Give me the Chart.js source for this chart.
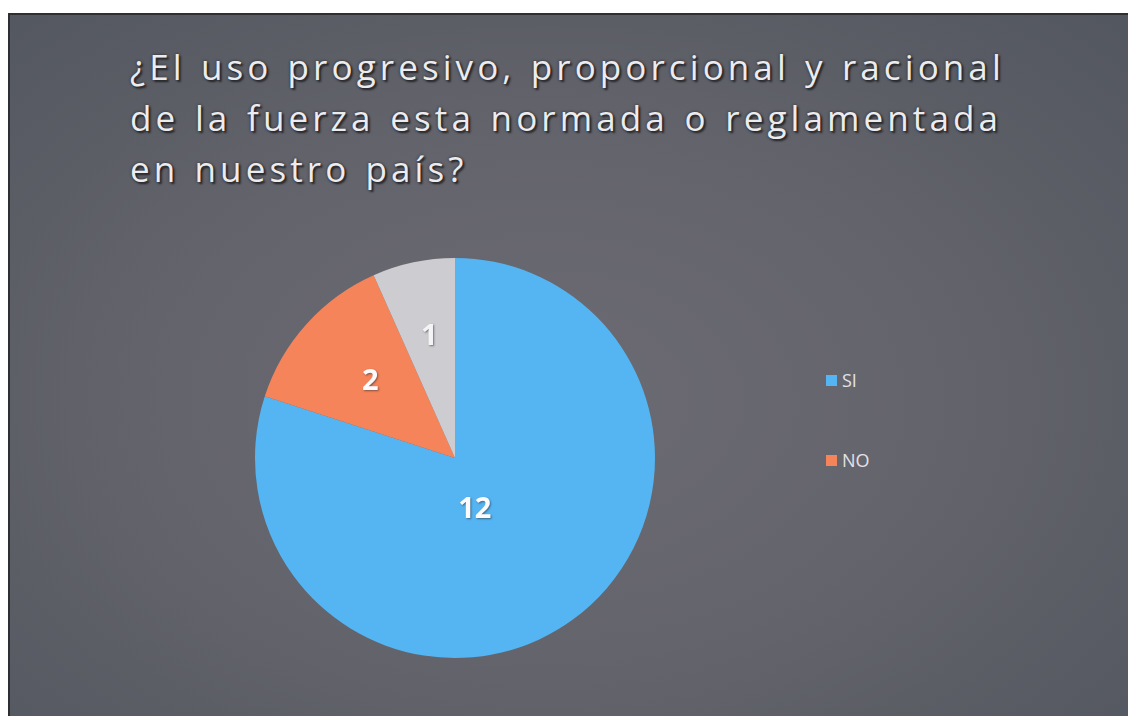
<!DOCTYPE html>
<html>
<head>
<meta charset="utf-8">
<script src="https://cdn.jsdelivr.net/npm/chart.js@4/dist/chart.umd.min.js"></script>
<style>
  html,body{ margin:0; padding:0; background:#fff; }
  #page{ position:relative; width:1128px; height:716px; overflow:hidden; background:#fff; }
  #slide{
    position:absolute; left:8px; top:13px; right:0; bottom:0;
    border-left:2px solid #2e2f33; border-top:2px solid #2e2f33;
    background:radial-gradient(ellipse 75% 80% at 48% 55%, #6c6b73 0%, #64646c 45%, #585b63 80%, #52565e 100%);
  }
  #title{
    position:absolute; left:130px; top:41px; width:872px;
    font-family:"Open Sans", sans-serif; font-size:35px; line-height:51px;
    letter-spacing:4.1px; word-spacing:2px; color:#ececef;
    text-shadow:2px 2px 2px #25262a, 0 0 3px #2a2b30;
  }
  #title .ln{ text-align:justify; text-align-last:justify; white-space:nowrap; }
  #title .ln.last{ text-align-last:left; }
  #pie-wrap{ position:absolute; left:253px; top:256px; width:404px; height:404px; }
  #legend{ position:absolute; left:826px; top:368px; font-family:"Open Sans", sans-serif; font-size:18px; color:#e2e2e6; }
  #legend .it{ display:flex; align-items:center; height:24px; margin-bottom:56px; }
  #legend .sw{ width:11px; height:11px; margin-right:5px; }
</style>
</head>
<body>
<div id="page">
  <div id="slide"></div>
  <div id="title">
    <div class="ln">¿El uso progresivo, proporcional y racional</div>
    <div class="ln">de la fuerza esta normada o reglamentada</div>
    <div class="ln last">en nuestro país?</div>
  </div>
  <div id="pie-wrap"><canvas id="pie"></canvas></div>
  <div id="legend"></div>
</div>
<script>
// slide data
const LABELS = ['SI', 'NO', ''];
const VALUES = [12, 2, 1];
const COLORS = ['#55b5f2', '#f5845a', '#cdccd0'];
const LEGEND_ITEMS = ['SI', 'NO'];

// data labels drawn on the arcs (fraction of radius per slice)
const sliceLabels = {
  id:'sliceLabels',
  afterDatasetsDraw(chart){
    const ctx = chart.ctx;
    const rFrac = [0.27, 0.57, 0.62];
    chart.getDatasetMeta(0).data.forEach((arc, i) => {
      const mid = (arc.startAngle + arc.endAngle) / 2;
      const r = arc.outerRadius * rFrac[i];
      const x = arc.x + Math.cos(mid) * r - (i === 0 ? 12 : 0);
      const y = arc.y + Math.sin(mid) * r + (i === 0 ? 8 : 0);
      ctx.save();
      ctx.font = 'bold 29px "Open Sans", sans-serif';
      ctx.textAlign = 'center';
      ctx.textBaseline = 'middle';
      ctx.shadowColor = 'rgba(30,30,40,0.5)';
      ctx.shadowBlur = 2;
      ctx.shadowOffsetX = 1; ctx.shadowOffsetY = 1;
      ctx.fillStyle = i === 2 ? '#f4f4f6' : '#fbfbfd';
      ctx.fillText(String(VALUES[i]), x, y);
      ctx.restore();
    });
  }
};

new Chart(document.getElementById('pie'), {
  type:'pie',
  data:{ labels:LABELS, datasets:[{ data:VALUES, backgroundColor:COLORS, borderWidth:0 }] },
  options:{
    responsive:true, maintainAspectRatio:false, animation:false,
    layout:{ padding:2 },
    plugins:{ legend:{ display:false }, tooltip:{ enabled:false } }
  },
  plugins:[sliceLabels]
});

const lg = document.getElementById('legend');
LEGEND_ITEMS.forEach(name => {
  const i = LABELS.indexOf(name);
  const it = document.createElement('div');
  it.className = 'it';
  it.innerHTML = '<span class="sw" style="background:' + COLORS[i] + '"></span><span>' + name + '</span>';
  lg.appendChild(it);
});
</script>
</body>
</html>
